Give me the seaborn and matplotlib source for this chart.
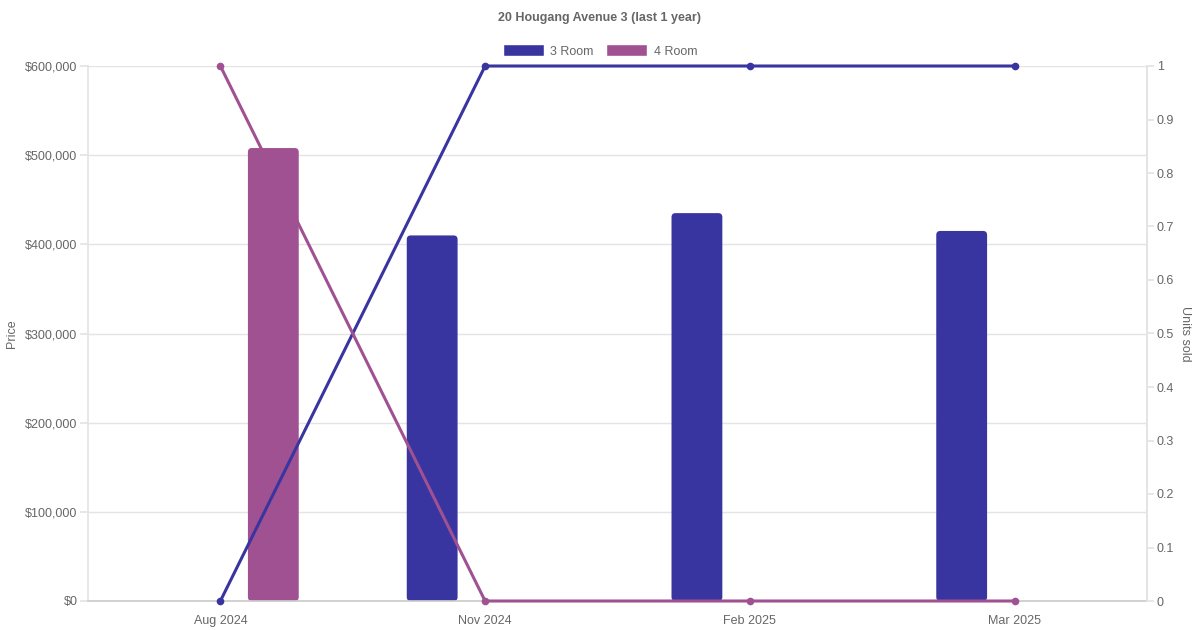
import numpy as np
import pandas as pd
import matplotlib
matplotlib.use('Agg')
import matplotlib.pyplot as plt
from matplotlib.patches import Patch, FancyBboxPatch
from matplotlib.ticker import FuncFormatter, MultipleLocator
import seaborn as sns

# dados
months = ['Aug 2024', 'Nov 2024', 'Feb 2025', 'Mar 2025']
room_types = ['3 Room', '4 Room']
price_3room = [None, 410000, 435000, 415000]
price_4room = [508000, None, None, None]
units_3room = [0, 1, 1, 1]
units_4room = [1, 0, 0, 0]

colors = {'3 Room': '#3935a0', '4 Room': '#a05192'}
text_color = '#666666'
grid_color = '#e4e4e4'

rows = []
for m, p3, p4 in zip(months, price_3room, price_4room):
    if p3 is not None:
        rows.append({'month': m, 'type': '3 Room', 'price': p3})
    if p4 is not None:
        rows.append({'month': m, 'type': '4 Room', 'price': p4})
df = pd.DataFrame(rows)

sns.set_theme(style='white')
plt.rcParams['font.family'] = ['Liberation Sans', 'DejaVu Sans']

fig = plt.figure(figsize=(12, 6.3), dpi=100)
ax = fig.add_axes([88 / 1200, 1 - 601 / 630, 1059 / 1200, 535 / 630])

sns.barplot(data=df, x='month', y='price', hue='type', order=months,
            hue_order=room_types, palette=colors, width=0.8, gap=0.52,
            dodge=True, legend=False, ax=ax, zorder=2, saturation=1)

ax.set_xlim(-0.5, len(months) - 0.5)
ax.set_ylim(0, 600000)

# cantos arredondados nas barras
px_x = len(months) / 1059
px_y = 600000 / 535
for bar in list(ax.patches):
    x0, y0 = bar.get_x(), bar.get_y()
    w, h = bar.get_width(), bar.get_height()
    if h <= 0:
        continue
    rb = FancyBboxPatch((x0, y0), w, h,
                        boxstyle=f'round,pad=0,rounding_size={4 * px_x}',
                        mutation_aspect=px_y / px_x,
                        facecolor=bar.get_facecolor(), edgecolor='none',
                        zorder=2)
    bar.remove()
    ax.add_patch(rb)

ax.yaxis.set_major_locator(MultipleLocator(100000))
ax.yaxis.set_major_formatter(FuncFormatter(lambda v, p: f'${v:,.0f}'))
ax.grid(axis='y', color=grid_color, linewidth=1, zorder=0)
ax.set_axisbelow(True)
ax.tick_params(axis='y', length=6, color=grid_color, colors=text_color,
               labelsize=9, pad=1.5)
ax.tick_params(axis='x', length=0, colors=text_color, labelsize=9, pad=10)
ax.set_xlabel('')
ax.set_ylabel('Price', color=text_color, fontsize=9)
ax.yaxis.set_label_coords(-0.066, 0.5)
ax.spines['top'].set_visible(False)
ax.spines['left'].set_color(grid_color)
ax.spines['bottom'].set_color('#cccccc')
ax.spines['right'].set_color(grid_color)

# eixo secundário
ax2 = ax.twinx()
x_pos = np.arange(len(months))
lines = pd.DataFrame({'x': np.concatenate([x_pos, x_pos]),
                      'units': units_3room + units_4room,
                      'type': ['3 Room'] * len(months) + ['4 Room'] * len(months)})
sns.lineplot(data=lines, x='x', y='units', hue='type', hue_order=room_types,
             palette=colors, linewidth=2.2, marker='o', markersize=5.5,
             markeredgewidth=0, legend=False, ax=ax2, zorder=3)
for ln in ax2.lines:
    ln.set_clip_on(False)
ax2.set_xlim(-0.5, len(months) - 0.5)
ax2.set_ylim(0, 1)
ax2.yaxis.set_major_locator(MultipleLocator(0.1))
ax2.yaxis.set_major_formatter(FuncFormatter(lambda v, p: f'{v:g}'))
ax2.tick_params(axis='y', length=5, color=grid_color, colors=text_color,
                labelsize=9, pad=2)
ax2.set_ylabel('Units sold', color=text_color, fontsize=9, rotation=270)
ax2.yaxis.set_label_coords(1.042, 0.5)
ax2.set_xlabel('')
for s in ['top', 'left', 'bottom']:
    ax2.spines[s].set_visible(False)
ax2.spines['right'].set_color(grid_color)

fig.text(0.5, 1 - 17.5 / 630, '20 Hougang Avenue 3 (last 1 year)', ha='center',
         va='center', fontsize=9, fontweight='bold', color=text_color)

handles = [Patch(facecolor=colors[t], label=t) for t in room_types]
fig.legend(handles=handles, loc='center', bbox_to_anchor=(0.5, 1 - 51 / 630),
           ncol=2, frameon=False, fontsize=9, labelcolor=text_color,
           handlelength=3.3, handleheight=1.1, handletextpad=0.5,
           columnspacing=1.0)

fig.savefig('out.png', dpi=100)
